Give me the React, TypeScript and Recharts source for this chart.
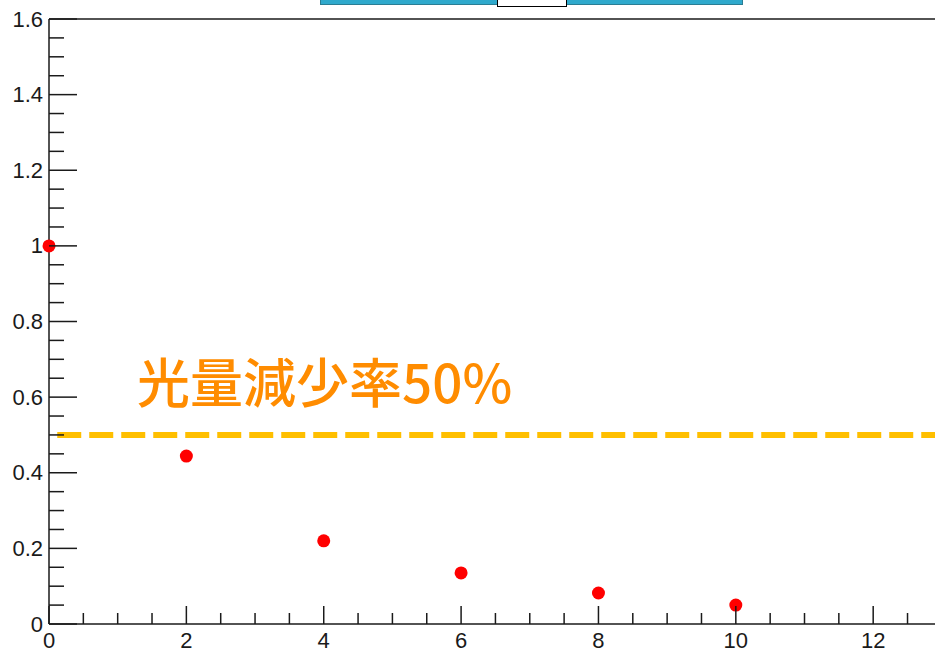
import React from 'react';
import { ScatterChart, Scatter, XAxis, YAxis, ReferenceLine } from 'recharts';

const xValues = [0, 2, 4, 6, 8, 10];
const yValues = [1.0, 0.444, 0.22, 0.135, 0.082, 0.05];

const xMajorTicks = [0, 2, 4, 6, 8, 10, 12];
const xTicks = [0, 0.5, 1, 1.5, 2, 2.5, 3, 3.5, 4, 4.5, 5, 5.5, 6, 6.5, 7, 7.5, 8, 8.5, 9, 9.5, 10, 10.5, 11, 11.5, 12, 12.5];
const yMajorTicks = [0, 0.2, 0.4, 0.6, 0.8, 1, 1.2, 1.4, 1.6];
const yTicks = [
  0, 0.05, 0.1, 0.15, 0.2, 0.25, 0.3, 0.35, 0.4, 0.45, 0.5, 0.55, 0.6, 0.65, 0.7, 0.75, 0.8,
  0.85, 0.9, 0.95, 1, 1.05, 1.1, 1.15, 1.2, 1.25, 1.3, 1.35, 1.4, 1.45, 1.5, 1.55, 1.6,
];
const thresholdY = 0.5;
const thresholdLabel = '光量減少率50%';

const data = xValues.map((x, i) => ({ x, y: yValues[i] }));

const FONT = '"Liberation Sans", Arial, Helvetica, sans-serif';
const INK = '#1a1a1a';

const isMajor = (list: number[], v: number) => list.some((m) => Math.abs(m - v) < 1e-6);

const XTick = ({ x, y, payload }: any) => {
  const major = isMajor(xMajorTicks, payload.value);
  return (
    <g>
      <line x1={x} x2={x} y1={y} y2={y - (major ? 18 : 11)} stroke={INK} strokeWidth={1.5} />
      {major && (
        <text x={x} y={y + 16} textAnchor="middle" dominantBaseline="central" fontSize={22} fontFamily={FONT} fill={INK}>
          {payload.value}
        </text>
      )}
    </g>
  );
};

const YTick = ({ x, y, payload }: any) => {
  const major = isMajor(yMajorTicks, payload.value);
  return (
    <g>
      <line x1={x} x2={x + (major ? 28 : 15)} y1={y} y2={y} stroke={INK} strokeWidth={1.5} />
      {major && (
        <text x={x - 6} y={y} textAnchor="end" dominantBaseline="central" fontSize={22} fontFamily={FONT} fill={INK}>
          {Number(payload.value.toFixed(1))}
        </text>
      )}
    </g>
  );
};

const Dot = ({ cx, cy }: any) => <circle cx={cx} cy={cy} r={6.5} fill="#ff0000" />;

export default function App() {
  return (
    <div style={{ position: 'absolute', left: 0, top: 0, width: 935, height: 651, background: '#fff', overflow: 'hidden' }}>
      <ScatterChart width={935} height={651} margin={{ top: 19, right: 0, bottom: 0, left: 0 }}>
        <XAxis
          type="number"
          dataKey="x"
          domain={[0, 12.9]}
          ticks={xTicks}
          interval={0}
          height={27}
          tickSize={0}
          tickMargin={0}
          tickLine={false}
          axisLine={{ stroke: INK, strokeWidth: 1.5 }}
          tick={<XTick />}
        />
        <YAxis
          type="number"
          dataKey="y"
          domain={[0, 1.6]}
          ticks={yTicks}
          interval={0}
          width={49}
          tickSize={0}
          tickMargin={0}
          tickLine={false}
          axisLine={{ stroke: INK, strokeWidth: 1.5 }}
          tick={<YTick />}
        />
        <ReferenceLine y={1.6} stroke={INK} strokeWidth={1.5} />
        <ReferenceLine
          segment={[{ x: 0.12, y: thresholdY }, { x: 12.9, y: thresholdY }]}
          stroke="#ffbf00"
          strokeWidth={6}
          strokeDasharray="24 8"
        />
        <Scatter data={data} shape={<Dot />} isAnimationActive={false} />
      </ScatterChart>
      <div
        style={{
          position: 'absolute',
          left: 137,
          top: 345,
          fontSize: 53,
          fontWeight: 500,
          lineHeight: '70px',
          color: '#ff8c00',
          fontFamily: '"Noto Sans CJK JP", "Noto Sans", sans-serif',
          whiteSpace: 'nowrap',
        }}
      >
        {thresholdLabel}
      </div>
      <div
        style={{
          position: 'absolute',
          left: 320,
          top: -4,
          width: 421,
          height: 7,
          background: '#2fa9cc',
          border: '1px solid #2a7d93',
        }}
      />
      <div
        style={{
          position: 'absolute',
          left: 497,
          top: -4,
          width: 68,
          height: 9,
          background: '#fff',
          border: '1.5px solid #000',
        }}
      />
    </div>
  );
}
